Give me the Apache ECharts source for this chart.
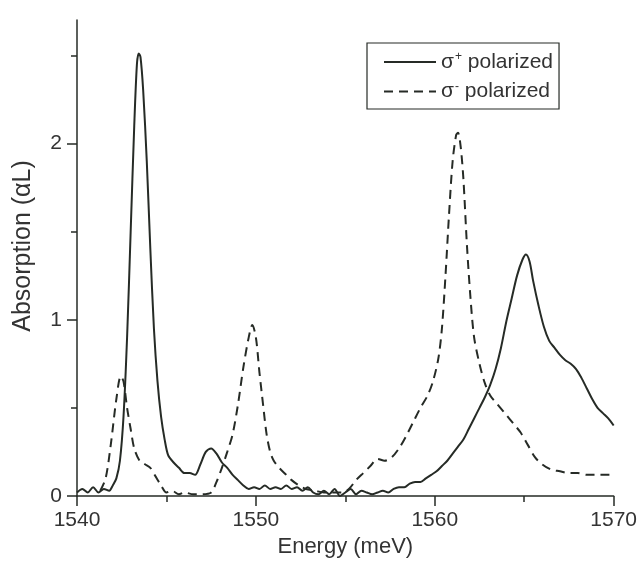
<!DOCTYPE html>
<html>
<head>
<meta charset="utf-8">
<script src="https://cdn.jsdelivr.net/npm/echarts@6/dist/echarts.min.js"></script>
<style>html,body{margin:0;padding:0;background:#fff;}#c{width:640px;height:574px;}</style>
</head>
<body>
<div id="c"></div>
<script>
// ---- data ----
var xMajorTicks = [1540, 1550, 1560, 1570];
var xMinorTicks = [1545, 1555, 1565];
var yMajorTicks = [0, 1, 2];
var yMinorTicks = [0.5, 1.5, 2.5];

var plusEnergy = [1540.0,1540.3,1540.6,1540.9,1541.2,1541.5,1541.8,1542.0,1542.2,1542.4,1542.6,1542.8,1543.0,1543.2,1543.35,1543.45,1543.55,1543.7,1543.9,1544.1,1544.3,1544.5,1544.7,1544.9,1545.1,1545.4,1545.7,1546.0,1546.3,1546.6,1546.9,1547.2,1547.5,1547.8,1548.1,1548.4,1548.7,1549.0,1549.3,1549.6,1549.9,1550.2,1550.5,1550.8,1551.1,1551.4,1551.7,1552.0,1552.3,1552.6,1552.9,1553.2,1553.5,1553.8,1554.1,1554.4,1554.7,1555.0,1555.3,1555.6,1555.9,1556.2,1556.5,1556.8,1557.1,1557.4,1557.7,1558.0,1558.3,1558.6,1558.9,1559.2,1559.5,1559.8,1560.1,1560.4,1560.7,1561.0,1561.3,1561.6,1561.9,1562.2,1562.5,1562.8,1563.1,1563.4,1563.7,1564.0,1564.3,1564.6,1564.9,1565.1,1565.3,1565.5,1565.8,1566.1,1566.4,1566.7,1567.0,1567.3,1567.6,1567.9,1568.2,1568.5,1568.8,1569.1,1569.4,1569.7,1570.0];
var plusAbs = [0.02,0.04,0.02,0.05,0.02,0.04,0.03,0.06,0.10,0.20,0.45,0.90,1.50,2.10,2.45,2.51,2.49,2.30,1.90,1.40,0.95,0.65,0.45,0.32,0.23,0.19,0.16,0.13,0.13,0.12,0.18,0.25,0.27,0.24,0.19,0.16,0.12,0.09,0.06,0.04,0.05,0.04,0.06,0.04,0.05,0.04,0.06,0.04,0.05,0.03,0.05,0.02,0.01,0.03,0.01,0.04,0.00,0.02,0.04,0.01,0.03,0.02,0.01,0.02,0.03,0.02,0.04,0.05,0.05,0.07,0.08,0.08,0.10,0.12,0.14,0.17,0.20,0.24,0.28,0.32,0.38,0.44,0.50,0.56,0.63,0.72,0.84,0.99,1.12,1.25,1.34,1.37,1.33,1.22,1.08,0.96,0.88,0.84,0.80,0.77,0.75,0.72,0.67,0.61,0.55,0.50,0.47,0.44,0.40];

var minusEnergy = [1541.3,1541.6,1541.9,1542.2,1542.45,1542.6,1542.8,1543.0,1543.2,1543.5,1543.8,1544.1,1544.4,1544.7,1545.0,1545.3,1545.7,1546.0,1546.5,1547.0,1547.5,1547.8,1548.1,1548.4,1548.7,1549.0,1549.3,1549.6,1549.8,1550.0,1550.2,1550.4,1550.6,1550.8,1551.0,1551.3,1551.7,1552.0,1552.4,1552.8,1553.3,1553.8,1554.3,1554.8,1555.2,1555.6,1556.0,1556.4,1556.8,1557.2,1557.6,1558.0,1558.4,1558.8,1559.2,1559.6,1559.9,1560.2,1560.4,1560.6,1560.8,1561.0,1561.2,1561.3,1561.45,1561.6,1561.8,1562.0,1562.2,1562.5,1562.8,1563.1,1563.5,1564.0,1564.4,1564.8,1565.2,1565.6,1566.0,1566.5,1567.0,1567.5,1568.0,1568.5,1569.0,1569.5,1570.0];
var minusAbs = [0.03,0.10,0.30,0.55,0.68,0.65,0.50,0.38,0.27,0.20,0.18,0.16,0.11,0.06,0.02,0.03,0.01,0.02,0.01,0.01,0.02,0.08,0.16,0.25,0.35,0.52,0.73,0.90,0.97,0.90,0.70,0.52,0.35,0.25,0.20,0.16,0.12,0.09,0.06,0.04,0.03,0.02,0.02,0.02,0.04,0.09,0.13,0.17,0.21,0.20,0.22,0.27,0.34,0.42,0.50,0.57,0.65,0.78,0.95,1.25,1.60,1.90,2.05,2.06,1.98,1.80,1.42,1.12,0.90,0.75,0.64,0.57,0.52,0.46,0.41,0.36,0.29,0.22,0.18,0.15,0.14,0.13,0.13,0.12,0.12,0.12,0.12];

function pairs(xs, ys) { return xs.map(function (x, i) { return [x, ys[i]]; }); }

var INK = '#262b26';
var TXT = '#333';
var FONT = '"Liberation Sans", Arial, sans-serif';

var chart = echarts.init(document.getElementById('c'), null, {renderer: 'canvas'});
chart.setOption({
  animation: false,
  backgroundColor: '#fff',
  grid: {left: 77, top: 20, width: 538, height: 476, containLabel: false},
  legend: {
    left: 367, top: 43,
    orient: 'vertical',
    itemWidth: 52, itemHeight: 14, itemGap: 8,
    padding: [8, 6, 7, 16],
    borderColor: INK, borderWidth: 1.2,
    itemStyle: {opacity: 0},
    data: ['σ+ polarized', 'σ- polarized'],
    formatter: function (name) {
      var sign = name.charAt(1);
      return '{s|σ}{sup|' + sign + '}{t| polarized}';
    },
    textStyle: {
      color: TXT, fontFamily: FONT, fontSize: 21,
      rich: {
        s: {fontSize: 21, fontFamily: FONT, color: TXT},
        sup: {fontSize: 12, fontFamily: FONT, color: TXT, verticalAlign: 'top', padding: [0, 0, 10, 1]},
        t: {fontSize: 21, fontFamily: FONT, color: TXT}
      }
    }
  },
  xAxis: [{
    type: 'value', min: 1540, max: 1570, interval: 10,
    name: 'Energy (meV)', nameLocation: 'middle', nameGap: 40,
    nameTextStyle: {fontFamily: FONT, fontSize: 22, color: TXT},
    axisLine: {show: true, onZero: false, lineStyle: {color: INK, width: 1.5}},
    axisTick: {show: true, inside: false, length: 10, customValues: xMajorTicks, lineStyle: {color: INK, width: 1.5}},
    axisLabel: {show: true, margin: 14, customValues: xMajorTicks, fontFamily: FONT, fontSize: 21, color: TXT,
      formatter: function (v) { return String(v); }},
    splitLine: {show: false}
  }, {
    type: 'value', min: 1540, max: 1570, position: 'bottom',
    axisLine: {show: false, onZero: false},
    axisTick: {show: true, inside: false, length: 6, customValues: xMinorTicks, lineStyle: {color: INK, width: 1.5}},
    axisLabel: {show: false},
    splitLine: {show: false}
  }],
  yAxis: [{
    type: 'value', min: 0, max: 2.7,
    name: 'Absorption (αL)', nameLocation: 'middle', nameGap: 41,
    nameTextStyle: {fontFamily: FONT, fontSize: 25, color: TXT, padding: [0, 0, 0, 24]},
    axisLine: {show: true, onZero: false, lineStyle: {color: INK, width: 1.5}},
    axisTick: {show: true, inside: false, length: 10, customValues: yMajorTicks, lineStyle: {color: INK, width: 1.5}},
    axisLabel: {show: true, margin: 15, customValues: yMajorTicks, fontFamily: FONT, fontSize: 21, color: TXT,
      formatter: function (v) { return String(v); }},
    splitLine: {show: false}
  }, {
    type: 'value', min: 0, max: 2.7, position: 'left',
    axisLine: {show: false, onZero: false},
    axisTick: {show: true, inside: false, length: 6, customValues: yMinorTicks, lineStyle: {color: INK, width: 1.5}},
    axisLabel: {show: false},
    splitLine: {show: false}
  }],
  series: [{
    name: 'σ+ polarized', type: 'line', xAxisIndex: 0, yAxisIndex: 0,
    data: pairs(plusEnergy, plusAbs),
    showSymbol: false, symbol: 'none', smooth: 0.3,
    lineStyle: {color: INK, width: 2, type: 'solid'},
    itemStyle: {color: INK}
  }, {
    name: 'σ- polarized', type: 'line', xAxisIndex: 0, yAxisIndex: 0,
    data: pairs(minusEnergy, minusAbs),
    showSymbol: false, symbol: 'none', smooth: 0.3,
    lineStyle: {color: INK, width: 2, type: [9, 6]},
    itemStyle: {color: INK}
  }]
});
</script>
</body>
</html>
